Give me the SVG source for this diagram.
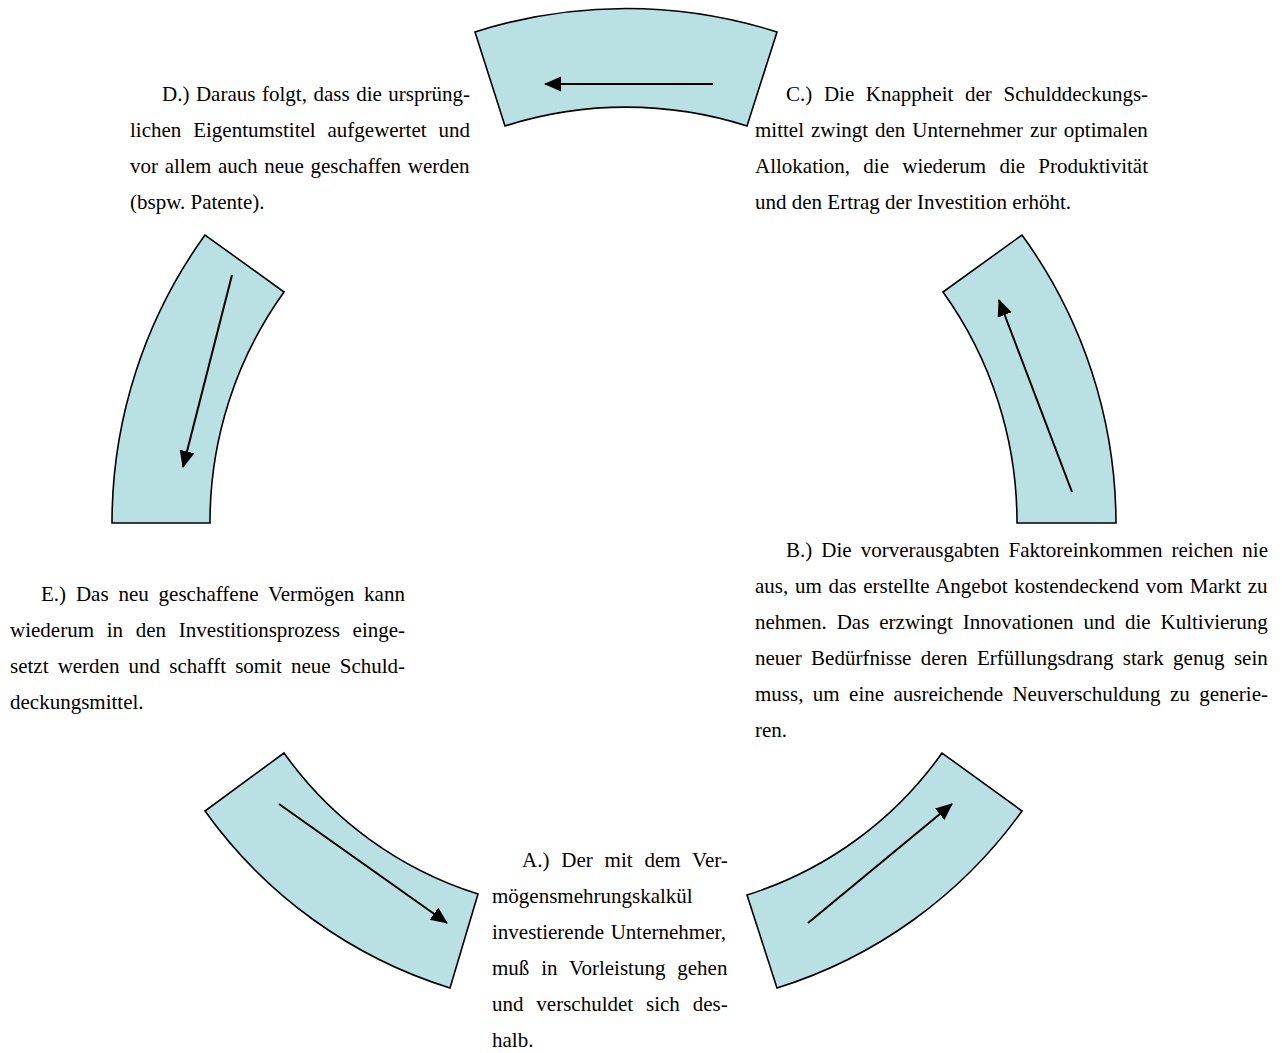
<svg xmlns="http://www.w3.org/2000/svg" width="1282" height="1053" viewBox="0 0 1282 1053">
<defs>
<style>
.seg{fill:#B9E0E3;stroke:#000;stroke-width:1.6;stroke-linejoin:miter}
.arr{fill:none;stroke:#000;stroke-width:2;marker-end:url(#ah)}
.t{font-family:"Liberation Serif","Times New Roman",serif;font-size:21px;fill:#000}
</style>
<marker id="ah" markerUnits="userSpaceOnUse" markerWidth="18" markerHeight="16" refX="16" refY="7.5" orient="auto">
<path d="M0,0 L17,7.5 L0,15 Z" fill="#000"/>
</marker>
</defs>
<rect width="1282" height="1053" fill="#fff"/>
<g id="seg-top"><path class="seg" d="M475,32 A496,496 0 0 1 777,32 L747,126 A398,398 0 0 0 505,126 Z"/></g>
<g id="seg-left"><path class="seg" d="M205,235 A492,492 0 0 0 112,523 L210,523 A394,394 0 0 1 284,292 Z"/></g>
<g id="seg-right"><path class="seg" d="M1022,235 A492,492 0 0 1 1116,523 L1017,523 A394,394 0 0 0 943,292 Z"/></g>
<g id="seg-bottom-left"><path class="seg" d="M205,811 A475,475 0 0 0 450,988 L478,894 A377,377 0 0 1 284,753 Z"/></g>
<g id="seg-bottom-right"><path class="seg" d="M1022,811 A475,475 0 0 1 777,988 L747,895 A377,377 0 0 0 942,753 Z"/></g>
<g id="connectors">
<line class="arr" x1="713" y1="84" x2="545" y2="84"/>
<line class="arr" x1="232" y1="275" x2="183" y2="467"/>
<line class="arr" x1="1072" y1="492" x2="999" y2="300"/>
<line class="arr" x1="279" y1="804" x2="447" y2="923"/>
<line class="arr" x1="808" y1="923" x2="952" y2="804"/>
</g>
<g id="text-D" class="t">
<text x="162" y="101" style="word-spacing:1.3px">D.) Daraus folgt, dass die ursprüng-</text>
<text x="130" y="137" style="word-spacing:6.6px">lichen Eigentumstitel aufgewertet und</text>
<text x="130" y="173" style="word-spacing:1.4px">vor allem auch neue geschaffen werden</text>
<text x="130" y="209">(bspw. Patente).</text>
</g>
<g id="text-C" class="t">
<text x="786" y="101" style="word-spacing:6.4px">C.) Die Knappheit der Schulddeckungs-</text>
<text x="755" y="137" style="word-spacing:1.7px">mittel zwingt den Unternehmer zur optimalen</text>
<text x="755" y="173" style="word-spacing:8px">Allokation, die wiederum die Produktivität</text>
<text x="755" y="209">und den Ertrag der Investition erhöht.</text>
</g>
<g id="text-E" class="t">
<text x="41" y="601" style="word-spacing:4.6px">E.) Das neu geschaffene Vermögen kann</text>
<text x="10" y="637" style="word-spacing:7.5px">wiederum in den Investitionsprozess einge-</text>
<text x="10" y="673" style="word-spacing:3.9px">setzt werden und schafft somit neue Schuld-</text>
<text x="10" y="709">deckungsmittel.</text>
</g>
<g id="text-B" class="t">
<text x="786" y="557" style="word-spacing:3.8px">B.) Die vorverausgabten Faktoreinkommen reichen nie</text>
<text x="755" y="593" style="word-spacing:1.45px">aus, um das erstellte Angebot kostendeckend vom Markt zu</text>
<text x="755" y="629" style="word-spacing:4.7px">nehmen. Das erzwingt Innovationen und die Kultivierung</text>
<text x="755" y="665" style="word-spacing:4.2px">neuer Bedürfnisse deren Erfüllungsdrang stark genug sein</text>
<text x="755" y="701" style="word-spacing:4.15px">muss, um eine ausreichende Neuverschuldung zu generie-</text>
<text x="755" y="737">ren.</text>
</g>
<g id="text-A" class="t">
<text x="522" y="867" style="word-spacing:6.6px">A.) Der mit dem Ver-</text>
<text x="492" y="903">mögensmehrungskalkül</text>
<text x="492" y="939" style="word-spacing:1.5px">investierende Unternehmer,</text>
<text x="492" y="975" style="word-spacing:6.6px">muß in Vorleistung gehen</text>
<text x="492" y="1011" style="word-spacing:7.6px">und verschuldet sich des-</text>
<text x="492" y="1047">halb.</text>
</g>
</svg>
